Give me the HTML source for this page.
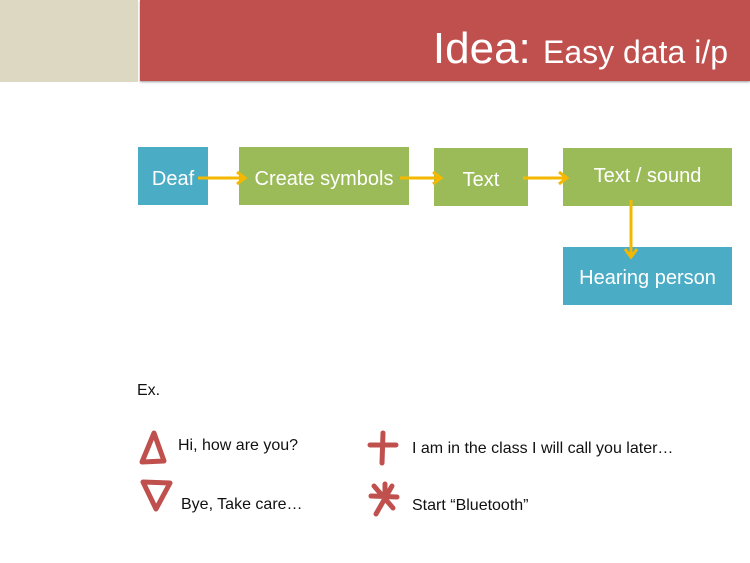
<!DOCTYPE html>
<html><head><style>
body{margin:0;width:750px;height:563px;background:#fff;position:relative;overflow:hidden;font-family:"Liberation Sans",sans-serif}
.a{position:absolute}
.box{position:absolute;color:#fff;font-size:20px;display:flex;align-items:center;justify-content:center;white-space:nowrap}
.t{position:absolute;font-size:16px;color:#111;white-space:nowrap}
</style></head><body>
<div class="a" style="left:0;top:0;width:138px;height:82px;background:#ddd8c2"></div>
<div class="a" style="left:140px;top:0;width:610px;height:81px;background:#c0504d;box-shadow:0 1px 2px #999"></div>
<div class="a" style="right:22px;top:24px;color:#fff;font-size:44px;white-space:nowrap">Idea: <span style="font-size:32px">Easy data i/p</span></div>

<div class="box" style="left:138px;top:147px;width:70px;height:58px;background:#4bacc6;padding-top:6px;box-sizing:border-box">Deaf</div>
<div class="box" style="left:239px;top:147px;width:170px;height:58px;background:#9bbb59;padding-top:6px;box-sizing:border-box">Create symbols</div>
<div class="box" style="left:434px;top:148px;width:94px;height:58px;background:#9bbb59;padding-top:6px;box-sizing:border-box">Text</div>
<div class="box" style="left:563px;top:148px;width:169px;height:58px;background:#9bbb59;align-items:flex-start;padding-top:17px;box-sizing:border-box">Text / sound</div>
<div class="box" style="left:563px;top:247px;width:169px;height:58px;background:#4bacc6;padding-top:4px;box-sizing:border-box">Hearing person</div>

<svg class="a" style="left:0;top:0" width="750" height="563">
<defs><marker id="m" markerWidth="12" markerHeight="14" refX="9" refY="7" orient="auto" markerUnits="userSpaceOnUse"><path d="M1,1 L9,7 L1,13" fill="none" stroke="#f5b800" stroke-width="3"/></marker></defs>
<g stroke="#f5b800" stroke-width="3" fill="none" marker-end="url(#m)">
<line x1="198" y1="178" x2="245" y2="178"/>
<line x1="400" y1="178" x2="441" y2="178"/>
<line x1="523" y1="178" x2="567" y2="178"/>
<line x1="631" y1="200" x2="631" y2="257"/>
</g>
<g stroke="#c0504d" stroke-width="5" fill="none" stroke-linecap="round" stroke-linejoin="round">
<path d="M154,433 L142,462 L164,461 Z"/>
<path d="M143,482 L170,483 L156,509 Z"/>
<path d="M370,445 L396,445 M383,433 L382,463"/>
<path d="M371,496 L397,497 M374,486 L393,508 M392,486 L376,514 M385,484 L385,500"/>
</g>
</svg>
<div class="t" style="left:137px;top:382px">Ex.</div>
<div class="t" style="left:178px;top:437px">Hi, how are you?</div>
<div class="t" style="left:181px;top:496px">Bye, Take care…</div>
<div class="t" style="left:412px;top:440px">I am in the class I will call you later…</div>
<div class="t" style="left:412px;top:497px">Start “Bluetooth”</div>
</body></html>
